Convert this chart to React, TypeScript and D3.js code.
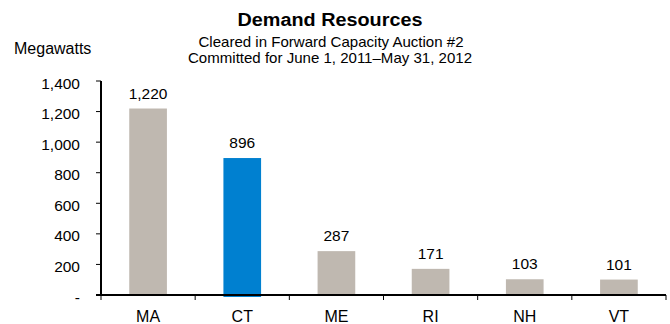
import React from "react";
import * as d3 from "d3";

const categories = ["MA", "CT", "ME", "RI", "NH", "VT"];
const values = [1220, 896, 287, 171, 103, 101];
const highlight = ["CT"];
const yTicks = [0, 200, 400, 600, 800, 1000, 1200, 1400];
const title = "Demand Resources";
const subtitle1 = "Cleared in Forward Capacity Auction #2";
const subtitle2 = "Committed for June 1, 2011\u2013May 31, 2012";
const yLabel = "Megawatts";

export default function App() {
  const W = 670, H = 324;
  const left = 101, right = 666, top = 81, bottom = 295;
  const x = d3.scaleBand<string>().domain(categories).range([left, right]).paddingInner(0.6).paddingOuter(0.3);
  const xb = d3.scaleBand<string>().domain(categories).range([left, right]);
  const y = d3.scaleLinear().domain([0, 1400]).range([bottom, top]);
  const fmt = d3.format(",");
  const font = "'Liberation Sans', Arial, sans-serif";
  return (
    <svg width={W} height={H} style={{ position: "absolute", left: 0, top: 0 }} fontFamily={font}>
      <rect width={W} height={H} fill="#fff" />
      <text x={330} y={26} textAnchor="middle" fontSize={18} fontWeight="bold" fill="#000" textLength={185} lengthAdjust="spacingAndGlyphs">{title}</text>
      <text x={331} y={47} textAnchor="middle" fontSize={14.5} fill="#000" textLength={265} lengthAdjust="spacingAndGlyphs">{subtitle1}</text>
      <text x={330} y={63} textAnchor="middle" fontSize={14.5} fill="#000" textLength={284} lengthAdjust="spacingAndGlyphs">{subtitle2}</text>
      <text x={14} y={54} fontSize={16} fill="#000">{yLabel}</text>
      {yTicks.map((t) => (
        <g key={t}>
          <line x1={left - 5} x2={left} y1={y(t)} y2={y(t)} stroke="#000" strokeWidth={1} />
          <text x={80} y={y(t) + 7.5} textAnchor="end" fontSize={15.5} fill="#000">{t === 0 ? "-" : fmt(t)}</text>
        </g>
      ))}
      {categories.map((c, i) => {
        const hi = highlight.includes(c);
        const v = values[i];
        return (
          <g key={c}>
            <rect x={x(c)} y={y(v)} width={x.bandwidth()} height={bottom - y(v) + (hi ? 2 : 0)} fill={hi ? "#0080D0" : "#BFB8B0"} />
            <text x={x(c)! + x.bandwidth() / 2} y={y(v) - 10} textAnchor="middle" fontSize={15.5} fill="#000">{fmt(v)}</text>
            <text x={xb(c)! + xb.bandwidth() / 2} y={322} textAnchor="middle" fontSize={16} fill="#000">{c}</text>
          </g>
        );
      })}
      {categories.map((c) => (
        <line key={"t" + c} x1={xb(c)!} x2={xb(c)!} y1={bottom} y2={bottom + 5} stroke="#000" strokeWidth={1} />
      ))}
      <line x1={right} x2={right} y1={bottom} y2={bottom + 5} stroke="#000" strokeWidth={1} />
      <line x1={left} x2={left} y1={top} y2={bottom} stroke="#000" strokeWidth={2} />
      <line x1={left - 5} x2={right} y1={bottom} y2={bottom} stroke="#000" strokeWidth={2} />
    </svg>
  );
}
